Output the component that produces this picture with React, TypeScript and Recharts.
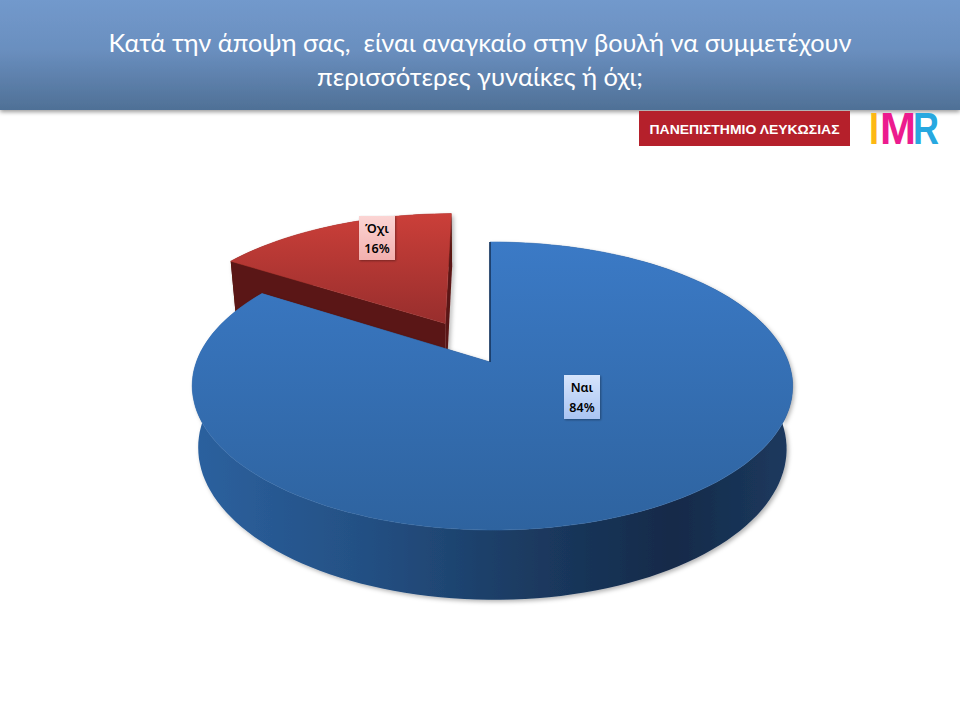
import { PieChart, Pie } from 'recharts'

const categories = ['Όχι', 'Ναι']
const shares = [16, 84]
const topFills = ['url(#topRed)', 'url(#topBlue)']
const wallFills = ['#5a1512', 'url(#wallBlue)']
const explodes = [0.33, 0]
const titleLines = [
  'Κατά την άποψη σας,  είναι αναγκαίο στην βουλή να συμμετέχουν',
  'περισσότερες γυναίκες ή όχι;',
]

const data = categories.map((name, i) => ({
  name,
  value: shares[i],
  fill: topFills[i],
  wall: wallFills[i],
  explode: explodes[i],
}))

const total = shares.reduce((a, b) => a + b, 0)
const firstAngle = 90 + (shares[0] / total) * 360

// perspective of the disc
const CX = 490
const CY = 362
const RADIUS = 296
const TILT = 0.473
const PERSP_Y = 1 / 6
const PERSP_X = 0.008
const DEPTH = 61
const BOTTOM_SCALE = 0.98

// label box centres, relative to the pie centre
const labelOffsets: Record<string, [number, number]> = {
  'Όχι': [-113, -124],
  'Ναι': [92, 35],
}

const rad = (a: number) => (a * Math.PI) / 180

function project(u: number, v: number, cx: number, cy: number, r: number) {
  const w = 1 + PERSP_Y * v - PERSP_X * u
  return { x: cx + (r * u) / w, y: cy - (r * TILT * v) / w, w }
}

function drop(p: { x: number; y: number; w: number }, cx: number, cy: number) {
  return {
    x: cx + (p.x - cx) * BOTTOM_SCALE,
    y: cy + (p.y - cy) * BOTTOM_SCALE + DEPTH / p.w,
  }
}

const toPath = (pts: { x: number; y: number }[]) =>
  pts.map((p, i) => `${i ? 'L' : 'M'}${p.x.toFixed(1)} ${p.y.toFixed(1)}`).join(' ') + ' Z'

function Slice3D(props: any) {
  const { cx, cy, outerRadius, startAngle, endAngle, fill, wall, explode } = props
  const mid = rad((startAngle + endAngle) / 2)
  const u0 = explode * Math.cos(mid)
  const v0 = explode * Math.sin(mid)
  const steps = Math.max(8, Math.round(Math.abs(endAngle - startAngle) / 2))
  const arc = []
  for (let i = 0; i <= steps; i++) {
    const a = rad(startAngle + ((endAngle - startAngle) * i) / steps)
    arc.push(project(u0 + Math.cos(a), v0 + Math.sin(a), cx, cy, outerRadius))
  }
  const apex = project(u0, v0, cx, cy, outerRadius)
  const arcBottom = arc.map((p) => drop(p, cx, cy)).reverse()
  const apexBottom = drop(apex, cx, cy)
  const first = arc[0]
  const last = arc[arc.length - 1]
  return (
    <g>
      <g filter="url(#softShadow)">
        <path d={toPath([...arc, ...arcBottom])} fill={wall} />
        <path d={toPath([apex, first, drop(first, cx, cy), apexBottom])} fill={wall} />
        <path d={toPath([apex, last, drop(last, cx, cy), apexBottom])} fill={wall} />
      </g>
      <path d={toPath([apex, ...arc])} fill={fill} stroke={fill} strokeWidth={0.6} />
      <path d={`M${first.x} ${first.y} L${apex.x} ${apex.y}`} stroke="#16345c" strokeWidth={explode ? 0 : 1.6} />
    </g>
  )
}

function SliceLabel(props: any) {
  const { cx, cy, name, value } = props
  const [dx, dy] = labelOffsets[name]
  const x = cx + dx
  const y = cy + dy
  const isRed = name === 'Όχι'
  return (
    <g>
      <rect
        x={x - 18}
        y={y - 22}
        width={36}
        height={44}
        fill={isRed ? 'url(#labelRed)' : 'url(#labelBlue)'}
        filter="url(#labelShadow)"
      />
      <text x={x} y={y - 5} textAnchor="middle" fontFamily="'Noto Sans', sans-serif" fontWeight={600} fontSize={12.5} fill="#000">
        {name}
      </text>
      <text x={x} y={y + 15} textAnchor="middle" fontFamily="'Noto Sans', sans-serif" fontWeight={600} fontSize={12.5} fill="#000">
        {value}%
      </text>
    </g>
  )
}

export default function App() {
  return (
    <div style={{ position: 'fixed', left: 0, top: 0, width: 960, height: 720, background: '#fff' }}>
      <PieChart width={960} height={720} margin={{ top: 0, right: 0, bottom: 0, left: 0 }}>
        <defs>
          <linearGradient id="header" x1="0" y1="0" x2="0" y2="1">
            <stop offset="0%" stopColor="#7299cc" />
            <stop offset="45%" stopColor="#6a8fbf" />
            <stop offset="100%" stopColor="#4f7096" />
          </linearGradient>
          <linearGradient id="topBlue" x1="0" y1="0" x2="0" y2="1">
            <stop offset="0%" stopColor="#3b7ac6" />
            <stop offset="100%" stopColor="#2e639f" />
          </linearGradient>
          <linearGradient id="wallBlue" x1="0" y1="0" x2="1" y2="0">
            <stop offset="0%" stopColor="#2c619f" />
            <stop offset="30%" stopColor="#234f82" />
            <stop offset="55%" stopColor="#1b3b62" />
            <stop offset="80%" stopColor="#152a49" />
            <stop offset="100%" stopColor="#1c3a5f" />
          </linearGradient>
          <linearGradient id="topRed" x1="0" y1="0" x2="0" y2="1">
            <stop offset="0%" stopColor="#cb3f39" />
            <stop offset="100%" stopColor="#982e2d" />
          </linearGradient>
          <linearGradient id="labelRed" x1="0" y1="0" x2="0" y2="1">
            <stop offset="0%" stopColor="#fbd5d4" />
            <stop offset="100%" stopColor="#f3b0ae" />
          </linearGradient>
          <linearGradient id="labelBlue" x1="0" y1="0" x2="0" y2="1">
            <stop offset="0%" stopColor="#d6e4fb" />
            <stop offset="100%" stopColor="#a9c4f3" />
          </linearGradient>
          <filter id="softShadow" x="-5%" y="-5%" width="110%" height="115%">
            <feDropShadow dx={2} dy={2} stdDeviation={2} floodColor="#000" floodOpacity={0.3} />
          </filter>
          <filter id="labelShadow" x="-20%" y="-20%" width="140%" height="140%">
            <feDropShadow dx={1} dy={1} stdDeviation={1} floodColor="#000" floodOpacity={0.35} />
          </filter>
          <filter id="headerShadow" x="0" y="-5%" width="100%" height="120%">
            <feDropShadow dx={0} dy={2} stdDeviation={2} floodColor="#000" floodOpacity={0.4} />
          </filter>
        </defs>

        <rect x={0} y={0} width={960} height={110} fill="url(#header)" filter="url(#headerShadow)" />
        <text x={480} y={52} textAnchor="middle" textLength={743} lengthAdjust="spacingAndGlyphs"
          fontFamily="Lato, 'Noto Sans', sans-serif" fontSize={25} fill="#fff" style={{ whiteSpace: 'pre' }}>
          {titleLines[0]}
        </text>
        <text x={480} y={86} textAnchor="middle" textLength={326} lengthAdjust="spacingAndGlyphs"
          fontFamily="Lato, 'Noto Sans', sans-serif" fontSize={25} fill="#fff">
          {titleLines[1]}
        </text>

        <rect x={639} y={111} width={211} height={35} fill="#b5202b" />
        <text x={744.5} y={134} textAnchor="middle" textLength={190} lengthAdjust="spacingAndGlyphs"
          fontFamily="'Liberation Sans', sans-serif" fontWeight={700} fontSize={12.5} fill="#fff">
          ΠΑΝΕΠΙΣΤΗΜΙΟ ΛΕΥΚΩΣΙΑΣ
        </text>
        <text x={869} y={144} textLength={10} lengthAdjust="spacingAndGlyphs"
          fontFamily="'Liberation Sans', sans-serif" fontWeight={700} fontSize={44} fill="#fdb813">I</text>
        <text x={880} y={144} textLength={36} lengthAdjust="spacingAndGlyphs"
          fontFamily="'Liberation Sans', sans-serif" fontWeight={700} fontSize={44} fill="#ec1b8e">M</text>
        <text x={913} y={144} textLength={26} lengthAdjust="spacingAndGlyphs"
          fontFamily="'Liberation Sans', sans-serif" fontWeight={700} fontSize={44} fill="#27a8e0">R</text>

        <Pie
          data={data}
          dataKey="value"
          nameKey="name"
          cx={CX}
          cy={CY}
          outerRadius={RADIUS}
          startAngle={firstAngle}
          endAngle={firstAngle - 360}
          stroke="none"
          shape={Slice3D}
          label={SliceLabel}
          labelLine={false}
          isAnimationActive={false}
        />
      </PieChart>
    </div>
  )
}
